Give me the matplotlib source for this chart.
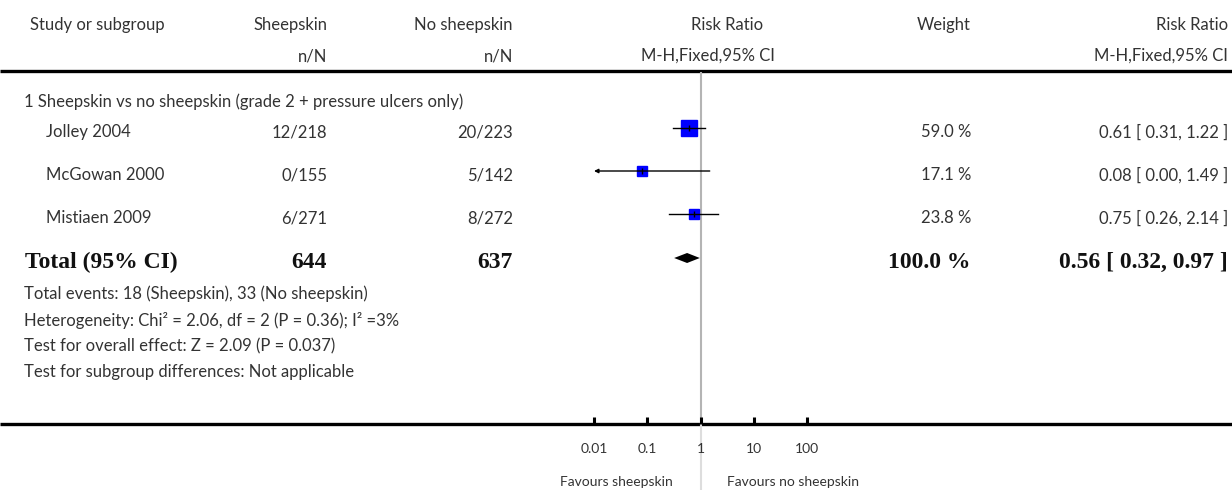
import numpy as np
import matplotlib
matplotlib.use("Agg")
import matplotlib.pyplot as plt

# data
studies = ["Jolley 2004", "McGowan 2000", "Mistiaen 2009"]
sheep_nN = ["12/218", "0/155", "6/271"]
nosheep_nN = ["20/223", "5/142", "8/272"]
rr = [0.61, 0.08, 0.75]
ci_lo = [0.31, 0.00, 0.26]
ci_hi = [1.22, 1.49, 2.14]
weight = [59.0, 17.1, 23.8]

total_sheep = 644
total_nosheep = 637
total_rr = 0.56
total_lo = 0.32
total_hi = 0.97
total_weight = 100.0

subgroup_title = "1 Sheepskin vs no sheepskin (grade 2 + pressure ulcers only)"
footnotes = [
    "Total events: 18 (Sheepskin), 33 (No sheepskin)",
    "Heterogeneity: Chi² = 2.06, df = 2 (P = 0.36); I² =3%",
    "Test for overall effect: Z = 2.09 (P = 0.037)",
    "Test for subgroup differences: Not applicable",
]
tick_vals = [0.01, 0.1, 1, 10, 100]
tick_labels = ["0.01", "0.1", "1", "10", "100"]

W, H = 1232, 490
GREY = "#333333"
sans = "Lato"
serif = "Liberation Serif"

fig = plt.figure(figsize=(W / 100, H / 100), dpi=100)
bg = fig.add_axes([0, 0, 1, 1])
bg.set_xlim(0, W)
bg.set_ylim(H, 0)
bg.axis("off")

fs = 12
c1, c2, cw, cr = 327, 513, 971, 1228


def txt(x, y, s, ha="left", size=fs, **kw):
    bg.text(x, y, s, ha=ha, va="center", fontsize=size, family=sans, color=GREY, **kw)


# header
txt(30, 25, "Study or subgroup")
txt(c1, 25, "Sheepskin", "right")
txt(c1, 56, "n/N", "right")
txt(c2, 25, "No sheepskin", "right")
txt(c2, 56, "n/N", "right")
txt(727, 25, "Risk Ratio", "center")
txt(708, 56, "M-H,Fixed,95% CI", "center")
txt(cw, 25, "Weight", "right")
txt(cr, 25, "Risk Ratio", "right")
txt(cr, 56, "M-H,Fixed,95% CI", "right")
bg.plot([0, W], [71, 71], color="black", lw=2.4, solid_capstyle="butt")
bg.plot([0, W], [424, 424], color="black", lw=2.4, solid_capstyle="butt")

txt(24, 102, subgroup_title)

row_y = [132, 175, 218]
for i, y in enumerate(row_y):
    txt(46, y, studies[i])
    txt(c1, y, sheep_nN[i], "right")
    txt(c2, y, nosheep_nN[i], "right")
    txt(cw, y, f"{weight[i]:.1f} %", "right")
    txt(cr, y, f"{rr[i]:.2f} [ {ci_lo[i]:.2f}, {ci_hi[i]:.2f} ]", "right")

ty = 262
bold = dict(va="center", fontsize=17, family=serif, weight="bold", color="#111111")
bg.text(25, ty, "Total (95% CI)", ha="left", **bold)
bg.text(c1, ty, str(total_sheep), ha="right", **bold)
bg.text(c2, ty, str(total_nosheep), ha="right", **bold)
bg.text(cw, ty, f"{total_weight:.1f} %", ha="right", **bold)
bg.text(cr, ty, f"{total_rr:.2f} [ {total_lo:.2f}, {total_hi:.2f} ]", ha="right", **bold)

for k, line in enumerate(footnotes):
    txt(24, 294 + 26 * k, line)

# forest panel
x0, x1 = 594, 807
ax = fig.add_axes([x0 / W, 0, (x1 - x0) / W, 1])
ax.set_xscale("log")
ax.set_xlim(0.01, 100)
ax.set_ylim(H, 0)
ax.patch.set_alpha(0)
for s in ["left", "right", "top"]:
    ax.spines[s].set_visible(False)
ax.spines["bottom"].set_position(("data", 424))
ax.spines["bottom"].set_visible(False)
ax.set_yticks([])
ax.set_xticks(tick_vals)
ax.set_xticklabels(tick_labels)
ax.minorticks_off()
ax.tick_params(axis="x", direction="in", length=5, width=2.2, color="black", pad=14,
               labelsize=10, labelcolor=GREY)
for lab in ax.get_xticklabels():
    lab.set_family(sans)

ax.vlines(1, 72, 424, color="#b4b4b4", lw=1.5, zorder=1)
ax.vlines(1, 424, H, color="#dddddd", lw=1.5, zorder=1)

xmin = ax.get_xlim()[0]
for i, y in enumerate(row_y):
    yy = y - 4
    size = 1.59 * np.sqrt(weight[i])
    ax.plot(rr[i], yy, marker="s", ms=size, color="#0000ff", mec="#0000ff", zorder=2)
    if ci_lo[i] < xmin:
        ax.annotate("", xy=(xmin, yy), xytext=(ci_hi[i], yy),
                    arrowprops=dict(arrowstyle="-|>", color="black", lw=1.0,
                                    mutation_scale=6, shrinkA=0, shrinkB=0),
                    annotation_clip=False, zorder=3)
    else:
        ax.plot([ci_lo[i], ci_hi[i]], [yy, yy], color="black", lw=1.0, zorder=3)
    ax.plot(rr[i], yy, marker="|", ms=4, color="black", mew=1.0, zorder=4)

dy = 258
ax.fill([total_lo, total_rr, total_hi, total_rr], [dy, dy - 5, dy, dy + 5],
        color="black", lw=0, zorder=3)

txt(673, 482, "Favours sheepskin", "right", size=10)
txt(727, 482, "Favours no sheepskin", size=10)

fig.savefig("out.png", dpi=100)
